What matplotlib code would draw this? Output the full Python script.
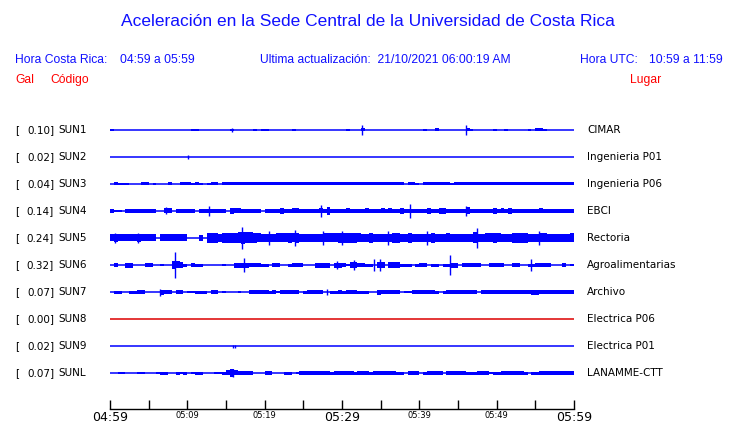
import matplotlib
matplotlib.use("Agg")
import matplotlib.pyplot as plt

# estaciones (de arriba hacia abajo)
codigos = ["SUN1", "SUN2", "SUN3", "SUN4", "SUN5", "SUN6", "SUN7", "SUN8", "SUN9", "SUNL"]
gal = ["0.10", "0.02", "0.04", "0.14", "0.24", "0.32", "0.07", "0.00", "0.02", "0.07"]
lugares = ["CIMAR", "Ingenieria P01", "Ingenieria P06", "EBCI", "Rectoria",
           "Agroalimentarias", "Archivo", "Electrica P06", "Electrica P01", "LANAMME-CTT"]

# envolvente de cada traza: un caracter por cada 30 s (base 36, alto total en px)
env_sun1 = ("2000000000" "0000000000" "0220000000" "0200000202" "2000000200" "0000000000"
            "0200030000" "0000000000" "0200300000" "0032000002" "0020000020" "3320000000")
env_sun2 = ("0000000000" "0000000000" "0000000000" "0000000000" "0000000000" "0000000000"
            "0000000000" "0000000000" "0000000000" "0000000000" "0000000000" "0000000000")
env_sun3 = ("0322200033" "0200030033" "3232023303" "3333333333" "3333333333" "3333333333"
            "3333333333" "3333330332" "0333333323" "3333333333" "3333333333" "3333333333")
env_sun4 = ("4220444444" "4400550444" "4404444444" "0655444440" "4444644554" "4444548444"
            "4544445444" "5454464444" "4464466444" "4474444446" "4546444444" "4544444444")
env_sun5 = ("7877777877" "7707777777" "00060aaa8a" "aaabcbba98" "888999a9a8" "888889999a"
            "aaaa988a88" "888aa88a88" "888a888988" "8888b8899a" "9888aaaa88" "8998888889")
env_sun6 = ("0400550004" "4002008763" "0433000002" "0055554443" "3044003444" "0005555055"
            "4266443306" "6066633303" "4403303355" "0444440044" "4400440033" "4444000402")
env_sun7 = ("0330033440" "0005440440" "2233304402" "0002004444" "4342444440" "3444400334"
            "3444333005" "4444402244" "4444303444" "4444404444" "4444444445" "5444444444")
env_sun8 = env_sun2
env_sun9 = env_sun2
env_sunl = ("0022000220" "0023300323" "0233000223" "5854444000" "4400033024" "4444444344"
            "4443444344" "4444330444" "0344440444" "4433344423" "3444444303" "3444444444")

envolventes = [env_sun1, env_sun2, env_sun3, env_sun4, env_sun5,
               env_sun6, env_sun7, env_sun8, env_sun9, env_sunl]

# picos aislados: (minuto desde 04:59, alto total en px)
picos = [
    [(32.6, 10), (46.0, 10), (15.8, 4)],
    [(10.1, 4)],
    [],
    [(12.8, 10), (7.3, 7), (38.8, 14), (46.0, 10), (27.3, 12)],
    [(17.1, 22), (23.9, 16), (27.5, 14), (30.0, 14), (47.5, 20), (0.6, 10), (3.6, 10),
     (20.5, 14), (36.0, 14), (41.0, 14), (55.5, 14)],
    [(8.4, 26), (17.3, 14), (29.4, 8), (31.6, 10), (34.1, 12), (34.9, 12), (44.0, 20), (54.4, 12)],
    [(6.5, 7), (28.1, 6)],
    [],
    [(15.9, 3), (16.2, 3)],
    [(15.9, 8)],
]

colores = ["#0000ff"] * 7 + ["#dd0000"] + ["#0000ff"] * 2

W, H = 740, 423
fig = plt.figure(figsize=(W / 100, H / 100), dpi=100)

azul = "#1010ff"
rojo = "#ff0000"
hdr = "Liberation Sans"

fig.text(368 / W, 1 - 22 / H, "Aceleración en la Sede Central de la Universidad de Costa Rica",
         color=azul, fontsize=12.5, family=hdr, ha="center", va="center")
fig.text(15 / W, 1 - 60 / H, "Hora Costa Rica:", color=azul, fontsize=8.7, family=hdr, va="center")
fig.text(120 / W, 1 - 60 / H, "04:59 a 05:59", color=azul, fontsize=8.7, family=hdr, va="center")
fig.text(260 / W, 1 - 60 / H, "Ultima actualización:  21/10/2021 06:00:19 AM",
         color=azul, fontsize=8.7, family=hdr, va="center")
fig.text(580 / W, 1 - 60 / H, "Hora UTC:", color=azul, fontsize=8.7, family=hdr, va="center")
fig.text(723 / W, 1 - 60 / H, "10:59 a 11:59", color=azul, fontsize=8.7, family=hdr,
         va="center", ha="right")
fig.text(15 / W, 1 - 80 / H, "Gal", color=rojo, fontsize=8.7, family=hdr, va="center")
fig.text(50 / W, 1 - 80 / H, "Código", color=rojo, fontsize=8.7, family=hdr, va="center")
fig.text(630 / W, 1 - 80 / H, "Lugar", color=rojo, fontsize=8.7, family=hdr, va="center")

# ejes de las trazas: filas separadas 27 px, eje de tiempo abajo
x0, x1 = 110, 574
ytop, ybot = 116, 409
fila_px = 27
ax = fig.add_axes([x0 / W, 1 - ybot / H, (x1 - x0) / W, (ybot - ytop) / H])
ax.set_xlim(0, 60)
ax.set_ylim((ybot - 130) / fila_px, (ytop - 130) / fila_px)

paso = 0.5
for i, (env, pk, col) in enumerate(zip(envolventes, picos, colores)):
    ax.hlines(i, 0, 60, color=col, lw=1.1)
    t = [k * paso for k, c in enumerate(env) if int(c, 36) > 0]
    h = [int(c, 36) / fila_px for c in env if int(c, 36) > 0]
    ax.bar(t, h, bottom=[i - v / 2 for v in h], width=paso, align="edge",
           color=col, linewidth=0)
    for tp, hp in pk:
        ax.vlines(tp, i - hp / fila_px / 2, i + hp / fila_px / 2, color=col, lw=1)

    yfig = 1 - (130 + fila_px * i) / H
    fig.text(15 / W, yfig, "[", fontsize=7.5, va="center")
    fig.text(54 / W, yfig, gal[i] + "]", fontsize=7.5, va="center", ha="right")
    fig.text(58 / W, yfig, codigos[i], fontsize=7.5, va="center")
    fig.text(587 / W, yfig, lugares[i], fontsize=7.5, va="center")

for s in ["top", "left", "right"]:
    ax.spines[s].set_visible(False)
ax.spines["bottom"].set_linewidth(1)
ax.set_yticks([])
ax.set_xticks(range(0, 61, 10), ["04:59", "05:09", "05:19", "05:29", "05:39", "05:49", "05:59"])
ax.set_xticks(range(5, 60, 10), minor=True)
ax.tick_params(axis="x", which="both", direction="in", length=6.5, width=1, pad=1.5)
for k, lab in enumerate(ax.get_xticklabels()):
    lab.set_fontsize(9 if k % 3 == 0 else 6)
    lab.set_va("top")

fig.savefig("out.png", dpi=100)
